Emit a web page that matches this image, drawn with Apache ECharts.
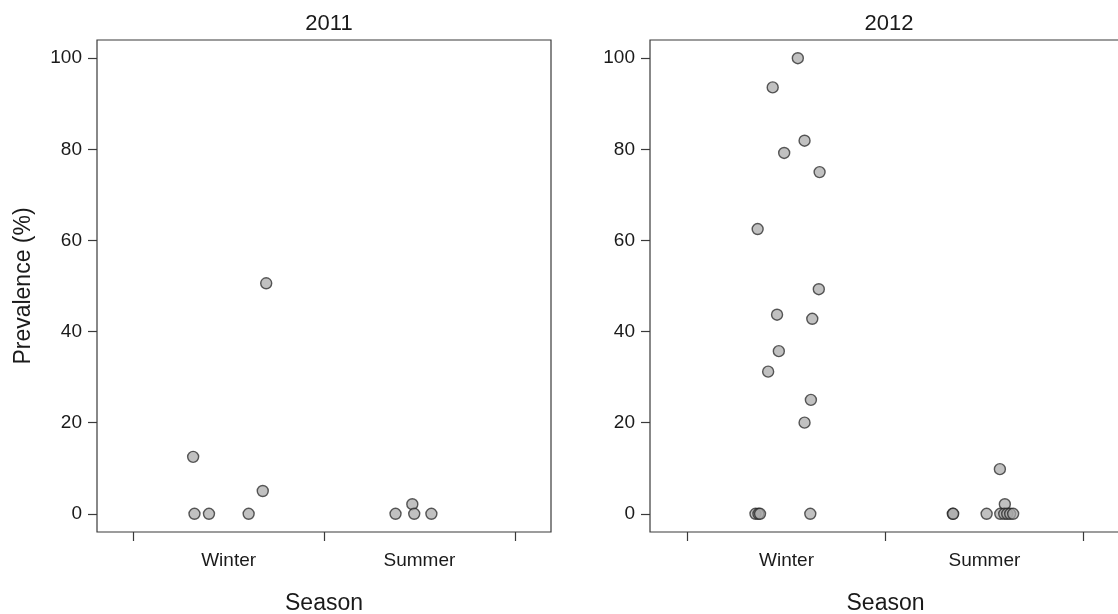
<!DOCTYPE html>
<html>
<head>
<meta charset="utf-8">
<script src="https://cdn.jsdelivr.net/npm/echarts@6/dist/echarts.min.js"></script>
<style>
html,body{margin:0;padding:0;background:#fff;}
#chart{width:1118px;height:614px;}
</style>
</head>
<body>
<div id="chart"></div>
<script>
// ---- data ----
const seasons = ['Winter', 'Summer'];          // category 1 = Winter, 2 = Summer
const panelTitles = ['2011', '2012'];
const yTicks = [0, 20, 40, 60, 80, 100];
const xTicks = [0.5, 1.5, 2.5];                  // category boundaries
// jittered season position (1 = Winter, 2 = Summer) and prevalence (%)
const x2011 = [0.814, 0.821, 0.897, 1.105, 1.179, 1.197, 1.875, 1.963, 1.973, 2.063];
const y2011 = [12.5, 0, 0, 0, 5.0, 50.6, 0, 2.1, 0, 0];
const x2012 = [1.057, 0.930, 1.091, 0.988, 1.167, 0.854, 1.163, 0.952, 1.130, 0.961, 0.907, 1.123, 1.091,
               0.843, 0.858, 0.866, 1.120,
               1.840, 1.842, 2.011, 2.078, 2.103, 2.080, 2.100, 2.115, 2.130, 2.145];
const y2012 = [100, 93.6, 81.9, 79.2, 75.0, 62.5, 49.3, 43.7, 42.8, 35.7, 31.2, 25.0, 20.0,
               0, 0, 0, 0,
               0, 0, 0, 9.8, 2.1, 0, 0, 0, 0, 0];

const FONT = '"Liberation Sans", Arial, Helvetica, sans-serif';
const INK = '#1a1a1a';
const LINE = '#3a3a3a';

const grids = [
  {left: 97, top: 40, width: 454, height: 492},
  {left: 650, top: 40, width: 471, height: 492}
];

function xAxisFor(i) {
  return {
    gridIndex: i, type: 'value', min: 0.31, max: 2.69, position: 'bottom',
    name: 'Season', nameLocation: 'middle', nameGap: 60,
    nameTextStyle: {fontFamily: FONT, fontSize: 23, color: INK},
    axisLine: {show: false, onZero: false},
    splitLine: {show: false},
    axisTick: {show: true, inside: false, length: 9, customValues: xTicks, lineStyle: {color: LINE, width: 1.2}},
    axisLabel: {show: true, customValues: [1, 2], margin: 19, fontFamily: FONT, fontSize: 19, color: INK,
      formatter: v => seasons[Math.round(v) - 1] || ''}
  };
}
function yAxisFor(i) {
  return {
    gridIndex: i, type: 'value', min: -4, max: 104, position: 'left',
    name: i === 0 ? 'Prevalence (%)' : '', nameLocation: 'middle', nameGap: 62,
    nameTextStyle: {fontFamily: FONT, fontSize: 23, color: INK},
    axisLine: {show: false, onZero: false},
    splitLine: {show: false},
    axisTick: {show: true, inside: false, length: 9, customValues: yTicks, lineStyle: {color: LINE, width: 1.2}},
    axisLabel: {show: true, customValues: yTicks, margin: 15, fontFamily: FONT, fontSize: 19, color: INK}
  };
}
function pts(xs, ys) { return xs.map((x, k) => [x, ys[k]]); }

const pointStyle = {color: '#a9a9a9', borderColor: '#1e1e1e', borderWidth: 1.4, opacity: 0.72};

const option = {
  backgroundColor: '#ffffff',
  animation: false,
  title: [
    {text: panelTitles[0], left: 324, top: 8, textAlign: 'center',
      textStyle: {fontFamily: FONT, fontSize: 22, fontWeight: 'normal', color: INK}},
    {text: panelTitles[1], left: 884, top: 8, textAlign: 'center',
      textStyle: {fontFamily: FONT, fontSize: 22, fontWeight: 'normal', color: INK}}
  ],
  grid: grids.map(g => Object.assign({show: true, borderColor: LINE, borderWidth: 1.2, backgroundColor: 'transparent',
    containLabel: false, outerBoundsMode: 'none'}, g)),
  xAxis: [xAxisFor(0), xAxisFor(1)],
  yAxis: [yAxisFor(0), yAxisFor(1)],
  series: [
    {type: 'scatter', xAxisIndex: 0, yAxisIndex: 0, symbol: 'circle', symbolSize: 11,
      itemStyle: pointStyle, data: pts(x2011, y2011)},
    {type: 'scatter', xAxisIndex: 1, yAxisIndex: 1, symbol: 'circle', symbolSize: 11,
      itemStyle: pointStyle, data: pts(x2012, y2012)}
  ]
};

const chart = echarts.init(document.getElementById('chart'), null, {renderer: 'canvas'});
chart.setOption(option);
</script>
</body>
</html>
